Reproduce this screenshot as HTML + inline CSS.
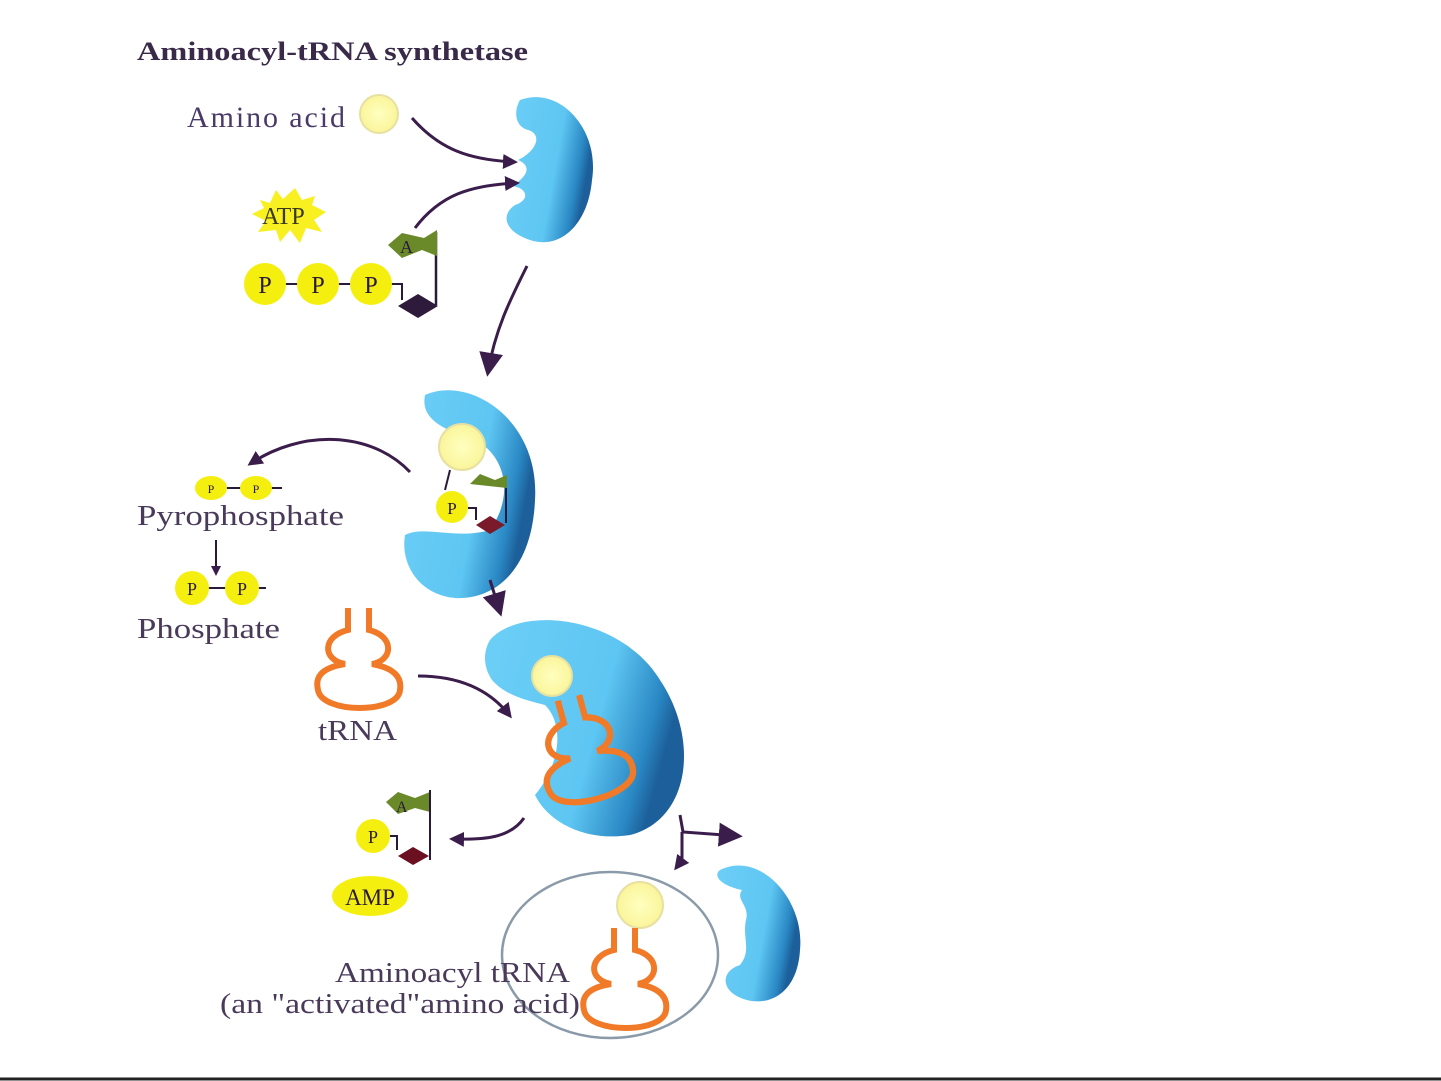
<!DOCTYPE html>
<html><head><meta charset="utf-8"><style>
html,body{margin:0;padding:0;background:#fff;}
svg{display:block}
text{font-family:"Liberation Serif",serif;}
</style></head><body>
<svg width="1441" height="1081" viewBox="0 0 1441 1081" xmlns="http://www.w3.org/2000/svg">
<defs>
<linearGradient id="bg" x1="0" y1="0" x2="1" y2="0.3">
<stop offset="0" stop-color="#6ccff7"/><stop offset="0.65" stop-color="#5ec6f2"/><stop offset="0.9" stop-color="#2a88c4"/><stop offset="1" stop-color="#1c5f9a"/>
</linearGradient>
<marker id="ah" viewBox="0 0 10 10" refX="8" refY="5" markerWidth="5" markerHeight="5" orient="auto"><path d="M0,0 L10,5 L0,10 Z" fill="#3a1d4a"/></marker>
<marker id="ahb" viewBox="0 0 10 10" refX="8" refY="5" markerWidth="8" markerHeight="8" orient="auto"><path d="M0,0 L10,5 L0,10 Z" fill="#3a1d4a"/></marker>
<radialGradient id="yc"><stop offset="0" stop-color="#ffffc0"/><stop offset="1" stop-color="#faf59a"/></radialGradient>
</defs>

<text x="137" y="60" font-size="26" font-weight="bold" fill="#3a2a4a" textLength="391" lengthAdjust="spacingAndGlyphs">Aminoacyl-tRNA synthetase</text>
<text x="187" y="127" font-size="30" fill="#4a3a6a" textLength="158" lengthAdjust="spacing">Amino acid</text>
<circle cx="379" cy="114" r="19" fill="url(#yc)" stroke="#e8e0a0" stroke-width="2"/>

<!-- enzyme 1 -->
<path d="M520,100 C560,85 600,130 592,180 C588,225 560,250 530,240 C505,232 500,215 515,205 C530,200 528,188 512,186 C528,176 532,166 518,160 C538,150 542,134 528,130 C514,126 514,110 520,100 Z" fill="url(#bg)"/>
<path d="M412,118 C440,150 470,160 515,162" stroke="#3a1d4a" stroke-width="3" fill="none" marker-end="url(#ah)"/>
<path d="M415,228 C440,195 470,185 517,183" stroke="#3a1d4a" stroke-width="3" fill="none" marker-end="url(#ah)"/>

<!-- ATP -->
<path d="M260,200 L270,203 L276,190 L283,199 L295,188 L302,200 L315,196 L312,205 L326,212 L314,220 L322,232 L306,228 L300,243 L290,230 L280,242 L276,230 L258,232 L266,221 L252,214 L264,208 Z" fill="#f8f020"/>
<text x="262" y="224" font-size="24" fill="#3a3a1a">ATP</text>
<line x1="265" y1="284" x2="392" y2="284" stroke="#2a1a3a" stroke-width="2"/>
<circle cx="265" cy="284" r="21" fill="#f5ef10"/><circle cx="318" cy="284" r="21" fill="#f5ef10"/><circle cx="371" cy="284" r="21" fill="#f5ef10"/>
<text x="265" y="293" font-size="24" fill="#2a1a3a" text-anchor="middle">P</text>
<text x="318" y="293" font-size="24" fill="#2a1a3a" text-anchor="middle">P</text>
<text x="371" y="293" font-size="24" fill="#2a1a3a" text-anchor="middle">P</text>
<path d="M392,284 H402 V300" stroke="#2a1a3a" stroke-width="2" fill="none"/>
<path d="M398,306 L418,294 L438,306 L418,318 Z" fill="#2e1a3a"/>
<path d="M436,305 V232" stroke="#2a1a3a" stroke-width="2.5"/>
<path d="M388,245 L402,233 L424,238 L437,230 L437,256 L422,250 L402,258 Z" fill="#6a8a2a"/>
<text x="400" y="253" font-size="18" fill="#2a1a3a">A</text>

<path d="M527,266 C510,300 495,330 488,372" stroke="#3a1d4a" stroke-width="3" fill="none" marker-end="url(#ahb)"/>

<!-- enzyme 2 -->
<path d="M425,395 C470,375 540,420 535,500 C532,570 495,600 455,598 C420,595 400,565 405,535 C425,525 455,540 490,530 C515,495 505,455 475,440 C445,430 420,420 425,395 Z" fill="url(#bg)"/>
<circle cx="462" cy="447" r="23" fill="url(#yc)" stroke="#e8e0a0" stroke-width="2"/>
<line x1="450" y1="470" x2="445" y2="490" stroke="#2a1a3a" stroke-width="2"/>
<circle cx="452" cy="507" r="16" fill="#f5ef10"/>
<text x="452" y="514" font-size="17" fill="#2a1a3a" text-anchor="middle">P</text>
<path d="M468,508 H476 V520" stroke="#2a1a3a" stroke-width="2" fill="none"/>
<path d="M476,525 L490,516 L505,525 L490,534 Z" fill="#7a1a2a"/>
<path d="M506,523 V478" stroke="#2a1a3a" stroke-width="2"/>
<path d="M470,484 L480,474 L495,480 L507,475 L507,488 Z" fill="#6a8a2a"/>
<path d="M410,472 C370,430 300,430 250,464" stroke="#3a1d4a" stroke-width="3" fill="none" marker-end="url(#ah)"/>

<!-- pyrophosphate -->
<line x1="200" y1="488" x2="282" y2="488" stroke="#2a1a3a" stroke-width="2"/>
<ellipse cx="211" cy="488" rx="16" ry="12" fill="#f5ef10"/><ellipse cx="256" cy="488" rx="16" ry="12" fill="#f5ef10"/>
<text x="211" y="493" font-size="12" fill="#2a1a3a" text-anchor="middle">P</text>
<text x="256" y="493" font-size="12" fill="#2a1a3a" text-anchor="middle">P</text>
<text x="137" y="525" font-size="29" fill="#4a3a5a" textLength="207" lengthAdjust="spacingAndGlyphs">Pyrophosphate</text>
<path d="M216,540 V574" stroke="#2a1a3a" stroke-width="2" marker-end="url(#ah)"/>
<line x1="190" y1="588" x2="266" y2="588" stroke="#2a1a3a" stroke-width="2"/>
<circle cx="192" cy="588" r="17" fill="#f5ef10"/><circle cx="242" cy="588" r="17" fill="#f5ef10"/>
<text x="192" y="595" font-size="18" fill="#2a1a3a" text-anchor="middle">P</text>
<text x="242" y="595" font-size="18" fill="#2a1a3a" text-anchor="middle">P</text>
<text x="137" y="638" font-size="29" fill="#4a3a5a" textLength="143" lengthAdjust="spacingAndGlyphs">Phosphate</text>

<path d="M490,580 L500,612" stroke="#3a1d4a" stroke-width="3" marker-end="url(#ahb)"/>

<!-- tRNA -->
<g fill="none" stroke="#f07a28" stroke-width="6">
<path d="M348,608 V630 C322,636 322,660 345,664 C320,668 315,678 318,690 C322,714 398,714 400,690 C402,678 395,668 372,664 C394,660 394,636 369,630 V608"/>
</g>
<text x="318" y="740" font-size="29" fill="#4a3a5a" textLength="79" lengthAdjust="spacingAndGlyphs">tRNA</text>
<path d="M418,676 C460,676 490,690 510,716" stroke="#3a1d4a" stroke-width="3" fill="none" marker-end="url(#ah)"/>

<!-- enzyme 3 -->
<path d="M490,640 C520,605 620,615 660,680 C700,740 690,820 630,835 C585,842 548,822 535,795 C560,765 565,725 545,705 C525,700 505,695 492,680 C482,665 484,650 490,640 Z" fill="url(#bg)"/>
<circle cx="552" cy="676" r="20" fill="url(#yc)" stroke="#e8e0a0" stroke-width="2"/>
<g transform="translate(568,698) rotate(-15) scale(1.05) translate(-358,-608)" fill="none" stroke="#f07a28" stroke-width="6">
<path d="M348,608 V630 C322,636 322,660 345,664 C320,668 315,678 318,690 C322,714 398,714 400,690 C402,678 395,668 372,664 C394,660 394,636 369,630 V608"/>
</g>

<!-- AMP group -->
<path d="M524,818 C510,838 485,840 452,839" stroke="#3a1d4a" stroke-width="3" fill="none" marker-end="url(#ah)"/>
<path d="M386,802 L398,792 L415,798 L430,792 L430,812 L415,808 L398,814 Z" fill="#6a8a2a"/>
<text x="396" y="812" font-size="16" fill="#2a1a3a">A</text>
<path d="M430,790 V860" stroke="#2a1a3a" stroke-width="2"/>
<circle cx="373" cy="836" r="17" fill="#f5ef10"/>
<text x="373" y="843" font-size="18" fill="#2a1a3a" text-anchor="middle">P</text>
<path d="M390,836 H397 V850" stroke="#2a1a3a" stroke-width="2" fill="none"/>
<path d="M398,856 L413,847 L429,856 L413,865 Z" fill="#6a1020"/>
<ellipse cx="370" cy="896" rx="38" ry="20" fill="#f5ef10"/>
<text x="370" y="905" font-size="23" fill="#2a1a3a" text-anchor="middle">AMP</text>

<!-- branch arrows -->
<path d="M680,815 L683,832 L738,836" stroke="#3a1d4a" stroke-width="3" fill="none" marker-end="url(#ahb)"/>
<path d="M682,832 V860 L676,868" stroke="#3a1d4a" stroke-width="3" fill="none" marker-end="url(#ah)"/>

<!-- enzyme 4 -->
<path d="M720,870 C760,850 805,900 800,950 C797,1000 760,1010 735,995 C720,985 724,970 740,965 C752,950 742,938 746,920 C750,905 735,900 742,890 C722,886 712,876 720,870 Z" fill="url(#bg)"/>

<!-- aminoacyl tRNA -->
<ellipse cx="610" cy="955" rx="108" ry="83" fill="none" stroke="#8a9aa8" stroke-width="2.5"/>
<circle cx="640" cy="905" r="23" fill="url(#yc)" stroke="#e8e0a0" stroke-width="2"/>
<g transform="translate(266,320)" fill="none" stroke="#f07a28" stroke-width="6">
<path d="M348,608 V630 C322,636 322,660 345,664 C320,668 315,678 318,690 C322,714 398,714 400,690 C402,678 395,668 372,664 C394,660 394,636 369,630 V608"/>
</g>
<text x="335" y="982" font-size="29" fill="#4a3a5a" textLength="235" lengthAdjust="spacingAndGlyphs">Aminoacyl tRNA</text>
<text x="220" y="1013" font-size="29" fill="#4a3a5a" textLength="360" lengthAdjust="spacingAndGlyphs">(an "activated"amino acid)</text>

<line x1="0" y1="1079" x2="1441" y2="1079" stroke="#222" stroke-width="3"/>
</svg>
</body></html>
